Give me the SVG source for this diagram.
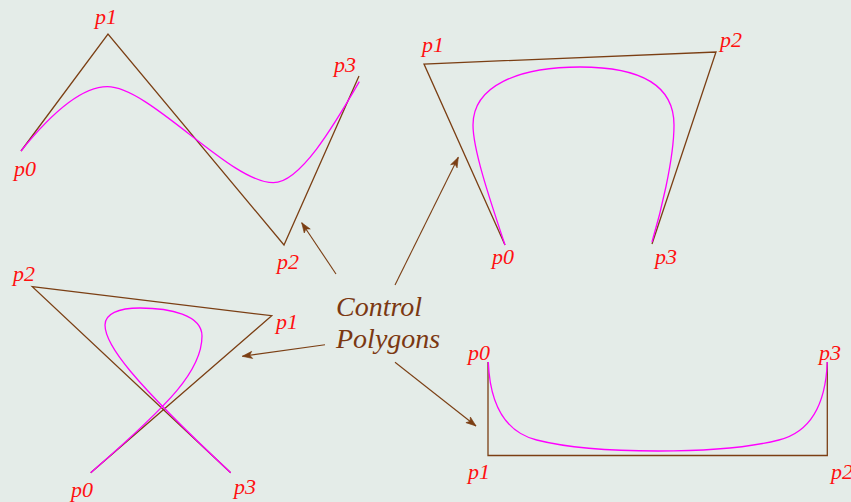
<svg xmlns="http://www.w3.org/2000/svg" width="851" height="502" viewBox="0 0 851 502">
<style>
.poly{fill:none;stroke:#7b3f14;stroke-width:1.3;stroke-linejoin:miter}
.curve{fill:none;stroke:#ff00ff;stroke-width:1.3}
.lbl{font-family:"Liberation Serif","Times New Roman",serif;font-style:italic;font-size:22px;fill:#ff1010}
.title{font-family:"Liberation Serif","Times New Roman",serif;font-style:italic;font-size:28px;fill:#7b3812}
.arrow{fill:none;stroke:#7b3f14;stroke-width:1.1}
</style>
<defs>
<marker id="ah" markerUnits="userSpaceOnUse" markerWidth="14" markerHeight="10" viewBox="-11 -5 13 10" refX="0" refY="0" orient="auto">
<path d="M-10,-3.6 L0,0 L-10,3.6 L-7.5,0 Z" fill="#7b3f14" stroke="#7b3f14" stroke-width="0.6" stroke-linejoin="miter"/>
</marker>
</defs>
<rect x="0" y="0" width="851" height="502" fill="#e4ece8"/>

<g id="curve1">
<polyline class="poly" points="21,151 108,34 284,245 359,76"/>
<path class="curve" d="M21,151 C50,115 80,86.7 107.3,86.7 C150,86.7 230,182.7 273.3,182.7 C300,182.7 333.3,126.7 359.3,81.7"/>
<text class="lbl" x="95" y="24">p1</text>
<text class="lbl" x="14" y="176">p0</text>
<text class="lbl" x="277" y="269">p2</text>
<text class="lbl" x="334" y="72">p3</text>
</g>

<g id="curve2">
<polyline class="poly" points="505,245 424,64 716,52 652,244"/>
<path class="curve" d="M505,245 C490,200 473,150 473,125 C473,86 518,67 580,67 C640,67 674,85 674,125 C674,160 660,215 652,242"/>
<text class="lbl" x="422" y="52">p1</text>
<text class="lbl" x="720" y="47">p2</text>
<text class="lbl" x="492" y="264">p0</text>
<text class="lbl" x="655" y="264">p3</text>
</g>

<g id="curve3">
<polyline class="poly" points="90.7,472.7 271.7,315.7 32.3,286.7 230.7,472.7"/>
<path class="curve" d="M90.7,472.7 C172,402 202,370 202,336 C202,315 170,308 140,308 C118,308 105,314 105,325 C105,345 131.5,379.7 230.7,472.7"/>
<text class="lbl" x="13" y="281">p2</text>
<text class="lbl" x="276" y="329">p1</text>
<text class="lbl" x="71" y="497">p0</text>
<text class="lbl" x="234" y="494">p3</text>
</g>

<g id="curve4">
<polyline class="poly" points="488,362 488,455.5 827.3,455.5 827.3,362"/>
<path class="curve" d="M488.3,362 C490,405 505,432 536.7,440 C575,449.7 620,451 657.8,451 C695.6,451 740.6,449.7 778.9,440 C810.6,432 825.6,405 827.3,362"/>
<text class="lbl" x="468" y="360">p0</text>
<text class="lbl" x="819" y="360">p3</text>
<text class="lbl" x="468" y="479">p1</text>
<text class="lbl" x="831" y="479">p2</text>
</g>

<g id="label">
<text class="title" x="336" y="316">Control</text>
<text class="title" x="336" y="348">Polygons</text>
</g>

<g id="connectors">
<line class="arrow" x1="336" y1="274" x2="301.7" y2="222.7" marker-end="url(#ah)"/>
<line class="arrow" x1="395" y1="285" x2="458.3" y2="157.3" marker-end="url(#ah)"/>
<line class="arrow" x1="325" y1="344.7" x2="242.3" y2="356.3" marker-end="url(#ah)"/>
<line class="arrow" x1="395" y1="362.3" x2="476" y2="426" marker-end="url(#ah)"/>
</g>
</svg>
